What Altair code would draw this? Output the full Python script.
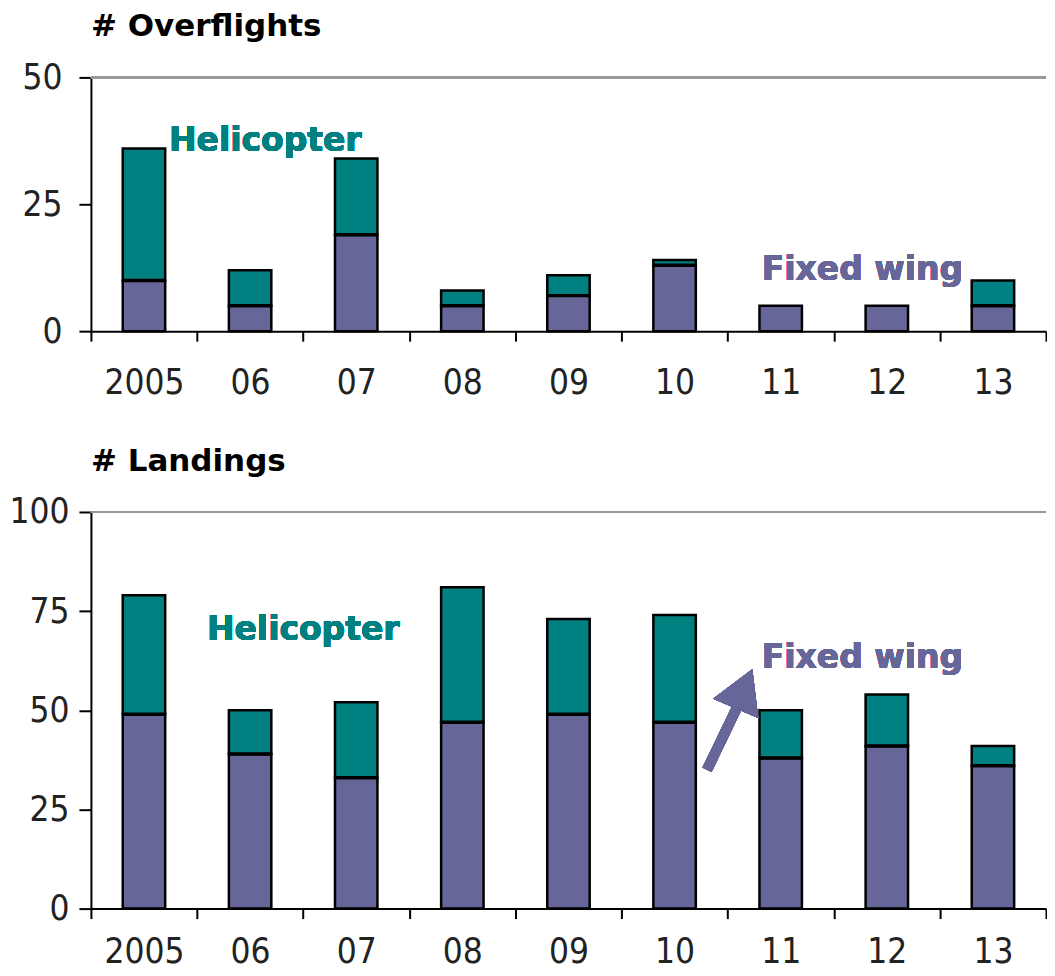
import altair as alt
import pandas as pd

years = ["2005", "06", "07", "08", "09", "10", "11", "12", "13"]
series = ["Fixed wing", "Helicopter"]
colors = ["#666699", "#008080"]

over_fixed = [10, 5, 19, 5, 7, 13, 5, 5, 5]
over_heli = [26, 7, 15, 3, 4, 1, 0, 0, 5]
land_fixed = [49, 39, 33, 47, 49, 47, 38, 41, 36]
land_heli = [30, 11, 19, 34, 24, 27, 12, 13, 5]


def long_df(fixed, heli):
    rows = []
    for y, f, h in zip(years, fixed, heli):
        rows.append({"year": y, "type": series[0], "value": f, "ord": 0})
        if h > 0:
            rows.append({"year": y, "type": series[1], "value": h, "ord": 1})
    return pd.DataFrame(rows)


def boundary_df(fixed, heli):
    return pd.DataFrame(
        [{"year": y, "b": f} for y, f, h in zip(years, fixed, heli) if h > 0]
    )


LABEL_FONT = "Liberation Sans Narrow, DejaVu Sans Condensed, Arial Narrow, sans-serif"
ANNOT_FONT = "DejaVu Sans, sans-serif"
BAR_W = alt.RelativeBandSize(0.4)


def panel(df, bdf, title, ymax, yvals, width, height, ylabpad, xlabpad,
          heli_pos, fixed_pos, arrow=None):
    x = alt.X(
        "year:N",
        sort=years,
        scale=alt.Scale(domain=years, paddingInner=0, paddingOuter=0),
        axis=alt.Axis(
            title=None, labelAngle=0, tickBand="extent", domainColor="black",
            domainWidth=2, tickColor="black", tickWidth=2, tickSize=10,
            labelFont=LABEL_FONT, labelFontSize=35, labelColor="#222",
            labelPadding=xlabpad, labelBaseline="top",
        ),
    )
    y = alt.Y(
        "value:Q",
        stack="zero",
        scale=alt.Scale(domain=[0, ymax], nice=False),
        axis=alt.Axis(
            title=None, values=yvals, grid=False, domainColor="black",
            domainWidth=2, tickColor="black", tickWidth=2, tickSize=12,
            labelFont=LABEL_FONT, labelFontSize=35, labelColor="#222",
            labelPadding=ylabpad,
        ),
    )
    bars = alt.Chart(df).mark_bar(stroke="black", strokeWidth=2.5, width=BAR_W).encode(
        x=x,
        y=y,
        color=alt.Color("type:N", scale=alt.Scale(domain=series, range=colors), legend=None),
        order=alt.Order("ord:Q", sort="ascending"),
    )
    seams = alt.Chart(bdf).mark_bar(
        stroke="black", strokeWidth=3.5, fill="black", width=BAR_W
    ).encode(x=alt.X("year:N", sort=years), y=alt.Y("b:Q"), y2=alt.Y2("b:Q"))
    top_rule = alt.Chart(df).mark_rule(color="#999999", strokeWidth=1.5).encode(
        y=alt.datum(ymax)
    )
    heli_txt = alt.Chart(df).mark_text(
        text="Helicopter", align="left", baseline="middle", font=ANNOT_FONT,
        fontSize=33, fontWeight="bold", color="#008080", dx=heli_pos[2],
    ).encode(x=alt.datum(heli_pos[0]), y=alt.datum(heli_pos[1]))
    fixed_txt = alt.Chart(df).mark_text(
        text="Fixed wing", align="left", baseline="middle", font=ANNOT_FONT,
        fontSize=33, fontWeight="bold", color="#666699", dx=fixed_pos[2],
    ).encode(x=alt.datum(fixed_pos[0]), y=alt.datum(fixed_pos[1]))
    layers = [top_rule, bars, seams, heli_txt, fixed_txt]
    if arrow is not None:
        cat, y0, y1, xo0, xo1, yhead, xohead = arrow
        shaft = alt.Chart(df).mark_rule(
            color="#666699", strokeWidth=10, xOffset=xo0, x2Offset=xo1
        ).encode(x=alt.datum(cat), x2=alt.datum(cat), y=alt.datum(y0), y2=alt.datum(y1))
        head = alt.Chart(df).mark_point(
            shape="triangle-up", filled=True, color="#666699", opacity=1,
            size=2400, angle=23, xOffset=xohead,
        ).encode(x=alt.datum(cat), y=alt.datum(yhead))
        layers += [shaft, head]
    return alt.layer(*layers).properties(
        width=width,
        height=height,
        title=alt.TitleParams(
            title, anchor="start", frame="group", font="DejaVu Sans",
            fontSize=31, fontWeight="bold", color="black", offset=17,
        ),
    )


top = panel(
    long_df(over_fixed, over_heli), boundary_df(over_fixed, over_heli),
    "# Overflights", 50, [0, 25, 50],
    956, 254, 17, 24, ("2005", 37.5, 25), ("11", 12, -19),
)
bottom = panel(
    long_df(land_fixed, land_heli), boundary_df(land_fixed, land_heli),
    "# Landings", 100, [0, 25, 50, 75, 100],
    956, 397, 10, 16, ("2005", 70.2, 63), ("11", 63.3, -19),
    arrow=("10", 35, 51, 32.5, 63, 55.4, 69.5),
)

chart = alt.vconcat(top, bottom, spacing=46).properties(
    padding={"top": 3, "bottom": 0, "left": 0, "right": 0}
).configure_view(stroke=None)

chart.save("out.html", embed_options={"renderer": "svg", "actions": False})
